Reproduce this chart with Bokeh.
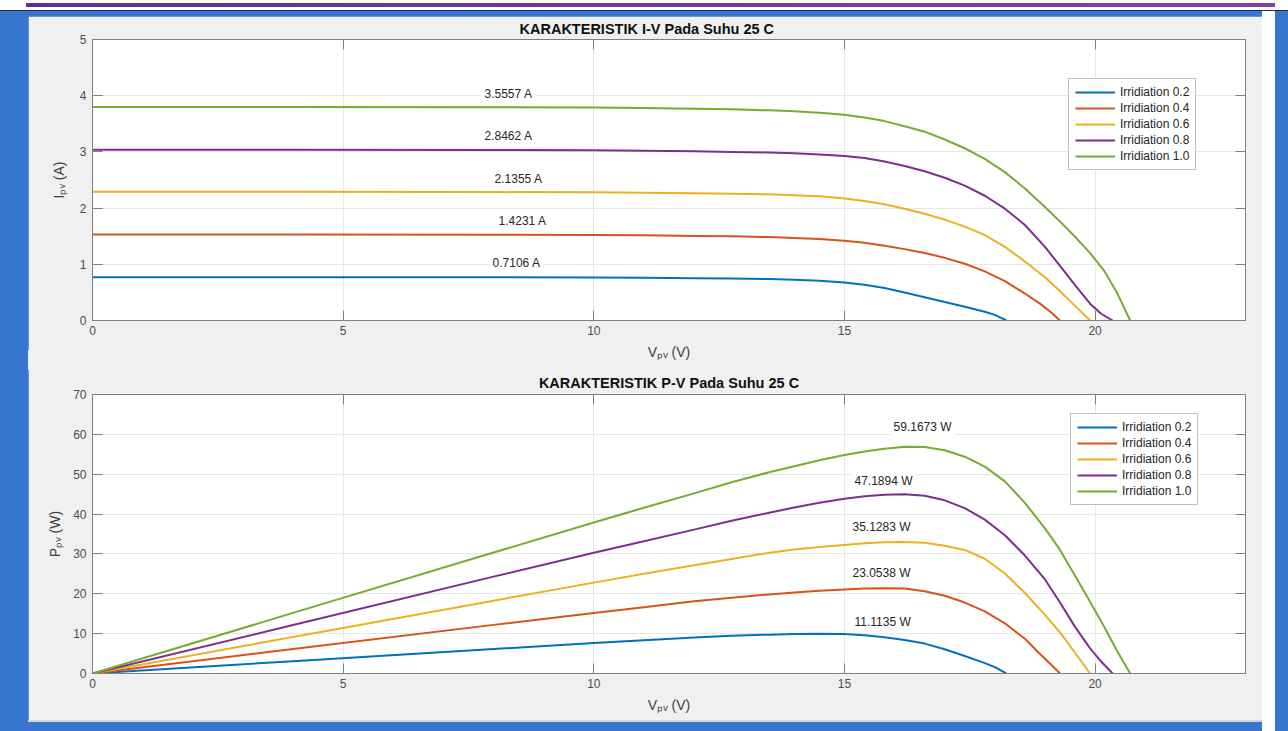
from bokeh.plotting import figure
from bokeh.models import Range1d, LinearAxis, Label, FixedTicker
from bokeh.layouts import column
from bokeh.embed import file_html
from bokeh.resources import INLINE

# ---------------- data ----------------
series_names = ["Irridiation 0.2", "Irridiation 0.4", "Irridiation 0.6",
                "Irridiation 0.8", "Irridiation 1.0"]
series_colors = ["#0072BD", "#D95319", "#EDB120", "#7E2F8E", "#77AC30"]

# Voltage samples (V) per irradiation level
V_02 = [0, 4, 8, 10, 11, 12, 12.75, 13.5, 14.0, 14.5, 15.0, 15.4, 15.8, 16.2, 16.6,
        17.0, 17.4, 17.8, 18.0, 18.23]
V_04 = [0, 4, 8, 10, 11, 12, 12.75, 13.5, 14.0, 14.5, 15.0, 15.4, 15.8, 16.2, 16.6,
        17.0, 17.4, 17.8, 18.2, 18.6, 18.9, 19.1, 19.3]
V_06 = [0, 4, 8, 10, 11, 12, 12.75, 13.5, 14.0, 14.5, 15.0, 15.4, 15.8, 16.2, 16.6,
        17.0, 17.4, 17.8, 18.2, 18.6, 19.0, 19.3, 19.6, 19.9]
V_08 = [0, 4, 8, 10, 11, 12, 12.75, 13.5, 14.0, 14.5, 15.0, 15.4, 15.8, 16.2, 16.6,
        17.0, 17.4, 17.8, 18.2, 18.6, 19.0, 19.3, 19.6, 19.9, 20.12, 20.35]
V_10 = [0, 4, 8, 10, 11, 12, 12.75, 13.5, 14.0, 14.5, 15.0, 15.4, 15.8, 16.2, 16.6,
        17.0, 17.4, 17.8, 18.2, 18.6, 19.0, 19.3, 19.6, 19.9, 20.2, 20.45, 20.7]

# Current (A)
I_02 = [0.77, 0.77, 0.768, 0.765, 0.76, 0.753, 0.747, 0.738, 0.727, 0.708, 0.678, 0.636,
        0.578, 0.50, 0.415, 0.33, 0.245, 0.155, 0.10, 0]
I_04 = [1.53, 1.53, 1.525, 1.52, 1.515, 1.505, 1.498, 1.485, 1.47, 1.45, 1.42, 1.385,
        1.33, 1.27, 1.20, 1.115, 1.01, 0.875, 0.70, 0.48, 0.30, 0.16, 0]
I_06 = [2.29, 2.29, 2.285, 2.28, 2.273, 2.263, 2.255, 2.245, 2.23, 2.21, 2.17, 2.125,
        2.07, 1.99, 1.90, 1.795, 1.67, 1.52, 1.31, 1.05, 0.77, 0.52, 0.26, 0]
I_08 = [3.04, 3.04, 3.035, 3.03, 3.022, 3.01, 3.0, 2.99, 2.975, 2.955, 2.925, 2.89,
        2.83, 2.75, 2.655, 2.54, 2.40, 2.22, 1.99, 1.70, 1.31, 0.97, 0.63, 0.30, 0.12, 0]
I_10 = [3.80, 3.80, 3.795, 3.79, 3.782, 3.77, 3.757, 3.74, 3.722, 3.698, 3.66, 3.612,
        3.548, 3.458, 3.36, 3.22, 3.065, 2.875, 2.64, 2.35, 2.02, 1.76, 1.49, 1.20,
        0.86, 0.47, 0]

# Power (W)
P_02 = [0, 3.08, 6.14, 7.65, 8.35, 9.03, 9.45, 9.75, 9.9, 9.98, 9.9, 9.6, 9.1, 8.4,
        7.5, 6.1, 4.4, 2.6, 1.6, 0]
P_04 = [0, 6.12, 12.2, 15.2, 16.65, 18.1, 19.0, 19.85, 20.35, 20.75, 21.1, 21.3, 21.4,
        21.3, 20.65, 19.5, 17.8, 15.6, 12.6, 8.7, 4.9, 2.5, 0]
P_06 = [0, 9.16, 18.28, 22.8, 25.0, 27.15, 28.75, 30.3, 31.1, 31.75, 32.25, 32.65, 32.9,
        33.0, 32.8, 32.05, 31.0, 28.8, 25.1, 20.2, 14.7, 10.3, 5.2, 0]
P_08 = [0, 12.16, 24.3, 30.3, 33.2, 36.1, 38.3, 40.35, 41.65, 42.85, 43.85, 44.5, 44.85,
        44.95, 44.6, 43.45, 41.5, 38.6, 34.7, 29.6, 23.6, 17.8, 11.7, 6.3, 3.0, 0]
P_10 = [0, 15.2, 30.35, 37.9, 41.6, 45.2, 48.0, 50.5, 52.0, 53.5, 54.8, 55.7, 56.4,
        56.9, 56.8, 56.0, 54.4, 51.9, 48.2, 42.8, 36.4, 31.0, 24.5, 18.0, 11.3, 5.4, 0]

V_all = [V_02, V_04, V_06, V_08, V_10]
I_all = [I_02, I_04, I_06, I_08, I_10]
P_all = [P_02, P_04, P_06, P_08, P_10]

# annotation texts and anchors (data units)
iv_label_text = ["3.5557 A", "2.8462 A", "2.1355 A", "1.4231 A", "0.7106 A"]
iv_label_v = [7.76, 7.76, 7.96, 8.04, 7.92]
iv_label_i = [4.03, 3.28, 2.52, 1.77, 1.02]

pv_label_text = ["59.1673 W", "47.1894 W", "35.1283 W", "23.0538 W", "11.1135 W"]
pv_label_v = [15.92, 15.14, 15.10, 15.10, 15.14]
pv_label_p = [61.9, 48.3, 36.8, 25.1, 13.0]

x_ticks = [0, 5, 10, 15, 20]
iv_y_ticks = [0, 1, 2, 3, 4, 5]
pv_y_ticks = [0, 10, 20, 30, 40, 50, 60, 70]

title_iv = "KARAKTERISTIK I-V Pada Suhu 25 C"
title_pv = "KARAKTERISTIK P-V Pada Suhu 25 C"
xlabel = "Vₚᵥ (V)"
ylabel_iv = "Iₚᵥ (A)"
ylabel_pv = "Pₚᵥ (W)"

FONT = "Liberation Sans"
GRAY_BG = "#f0f0f0"
AXIS_C = "#808080"
TICK_TXT = "#4d4d4d"
LABEL_C = "#404040"


def make_fig(title, ymax, yticks, frame_h, top, bottom, ylab_standoff,
             title_align, title_offset, title_standoff):
    p = figure(frame_width=1153, frame_height=frame_h,
               x_range=Range1d(0, 23), y_range=Range1d(0, ymax),
               output_backend="svg", toolbar_location=None,
               min_border_left=64, min_border_right=17,
               min_border_top=top, min_border_bottom=bottom,
               background_fill_color="white", border_fill_color=GRAY_BG,
               outline_line_color=AXIS_C, outline_line_width=1, title=title)
    p.title.align = title_align
    p.title.offset = title_offset
    p.title.text_font = FONT
    p.title.text_font_size = "14.5px"
    p.title.text_font_style = "bold"
    p.title.text_color = "#111111"
    p.title.standoff = title_standoff
    p.add_layout(LinearAxis(), "above")
    p.add_layout(LinearAxis(), "right")
    for ax in p.xaxis:
        ax.ticker = FixedTicker(ticks=x_ticks)
    for ax in p.yaxis:
        ax.ticker = FixedTicker(ticks=yticks)
    for ax in p.axis:
        ax.axis_line_color = AXIS_C
        ax.major_tick_line_color = AXIS_C
        ax.major_tick_in = 10
        ax.major_tick_out = 0
        ax.minor_tick_line_color = None
        ax.major_label_text_font = FONT
        ax.major_label_text_font_size = "12px"
        ax.major_label_text_color = TICK_TXT
    p.above[0].major_label_overrides = {t: "" for t in x_ticks}
    p.right[0].major_label_overrides = {t: "" for t in yticks}
    for ax in (p.above[0], p.right[0]):
        ax.major_label_text_font_size = "0px"
        ax.major_label_standoff = 0
    bx = p.below[0]
    bx.major_label_standoff = 5
    bx.axis_label = xlabel
    bx.axis_label_text_font = FONT
    bx.axis_label_text_font_size = "14px"
    bx.axis_label_text_font_style = "normal"
    bx.axis_label_text_color = LABEL_C
    bx.axis_label_standoff = 6
    ly = p.left[0]
    ly.major_label_standoff = 6
    ly.axis_label_text_font = FONT
    ly.axis_label_text_font_size = "14px"
    ly.axis_label_text_font_style = "normal"
    ly.axis_label_text_color = LABEL_C
    ly.axis_label_standoff = ylab_standoff
    p.xgrid.ticker = FixedTicker(ticks=x_ticks)
    p.ygrid.ticker = FixedTicker(ticks=yticks)
    p.xgrid.grid_line_color = "#e6e6e6"
    p.ygrid.grid_line_color = "#e6e6e6"
    return p


def style_legend(p, loc):
    lg = p.legend[0]
    lg.location = loc
    lg.label_text_font = FONT
    lg.label_text_font_size = "12px"
    lg.label_text_color = "#262626"
    lg.glyph_width = 40
    lg.glyph_height = 14
    lg.label_height = 14
    lg.spacing = 2
    lg.padding = 6
    lg.margin = 0
    lg.label_standoff = 5
    lg.border_line_color = AXIS_C
    lg.border_line_width = 1
    lg.background_fill_color = "white"
    lg.background_fill_alpha = 1.0


def value_label(p, x, y, text):
    lab = Label(x=x, y=y, text=text, text_font=FONT, text_font_size="12px",
                text_align="left", text_baseline="middle", text_color="#262626",
                background_fill_color="white", background_fill_alpha=1.0, padding=3)
    p.add_layout(lab)


# ---------------- I-V ----------------
p1 = make_fig(title_iv, 5, iv_y_ticks, 281, 19, 42, 10, "left", 427, 5)
p1.left[0].axis_label = ylabel_iv
for v, i, c, n in zip(V_all, I_all, series_colors, series_names):
    p1.line(v, i, line_color=c, line_width=2, line_join="round", legend_label=n)
style_legend(p1, (976, 150))
for t, x, y in zip(iv_label_text, iv_label_v, iv_label_i):
    value_label(p1, x, y, t)

# ---------------- P-V ----------------
p2 = make_fig(title_pv, 70, pv_y_ticks, 279, 32, 47, 7, "center", 0, 8)
p2.left[0].axis_label = ylabel_pv
for v, pw, c, n in zip(V_all, P_all, series_colors, series_names):
    p2.line(v, pw, line_color=c, line_width=2, line_join="round", legend_label=n)
style_legend(p2, (978, 168))
for t, x, y in zip(pv_label_text, pv_label_v, pv_label_p):
    value_label(p2, x, y, t)

p1.margin = (16, 26, 0, 28)
p2.margin = (0, 26, 11, 28)

bg = ", ".join([
    "linear-gradient(to right, #ffffff 0px, #ffffff 26px, #5e2f9a 26px, #7c45a8 1275px, #ffffff 1275px) 0px 3px / 100% 4px no-repeat",
    "linear-gradient(#ffffff, #ffffff) 0px 0px / 100% 10px no-repeat",
    "linear-gradient(#1f2a55, #1f2a55) 0px 10px / 100% 1px no-repeat",
    "linear-gradient(#f0f0f0, #f0f0f0) 28px 350px / 1234px 20px no-repeat",
    "linear-gradient(#d4d4d4, #d4d4d4) 28px 720px / 1234px 2px no-repeat",
    "linear-gradient(to right, #3676cf 1262px, #ffffff 1262px, #ffffff 1275px, #3676cf 1275px)",
])

layout = column(p1, p2, spacing=0, styles={"background": bg})

open("out.html", "w").write(file_html(layout, INLINE))
